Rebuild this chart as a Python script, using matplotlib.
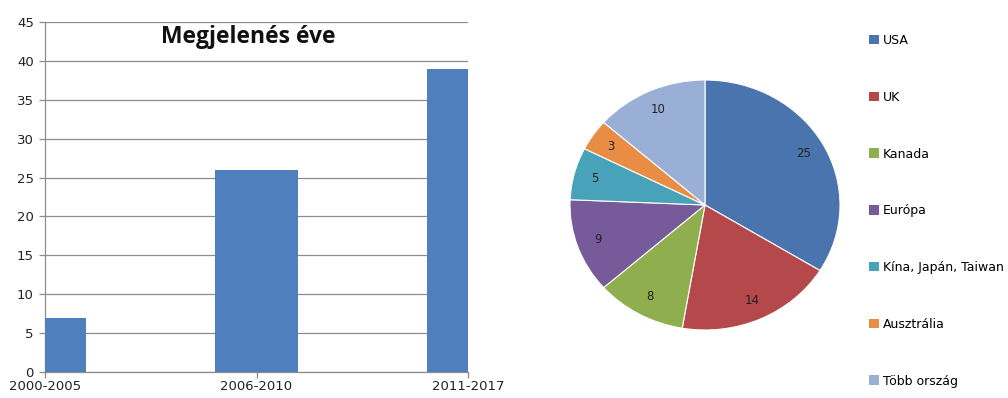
import matplotlib
matplotlib.use("Agg")
import matplotlib.pyplot as plt
from matplotlib.patches import Patch

# Data
bar_categories = ["2000-2005", "2006-2010", "2011-2017"]
bar_values = [7, 26, 39]
bar_title = "Megjelenés éve"
y_ticks = [0, 5, 10, 15, 20, 25, 30, 35, 40, 45]

pie_labels = ["USA", "UK", "Kanada", "Európa", "Kína, Japán, Taiwan", "Ausztrália", "Több ország"]
pie_values = [25, 14, 8, 9, 5, 3, 10]
pie_colors = ["#4A74AD", "#B5484A", "#8FAF4E", "#775A99", "#47A2BA", "#E98D45", "#9AAFD6"]

W, H = 1008, 398
fig = plt.figure(figsize=(W / 100, H / 100), dpi=100)
fig.patch.set_facecolor("white")

FONT = "DejaVu Sans"

# Bar chart
ax = fig.add_axes([45 / W, (H - 372) / H, 423 / W, 350 / H])
x = list(range(len(bar_categories)))
ax.bar(x, bar_values, width=0.392, color="#4F7FBC", zorder=3)
ax.set_xlim(0, len(bar_categories) - 1)
ax.set_ylim(0, 45)
ax.set_yticks(y_ticks)
ax.set_xticks(x)
ax.set_xticklabels(bar_categories, fontsize=9.5, family=FONT, color="#222222")
for lbl in ax.get_yticklabels():
    lbl.set_fontsize(9.5)
    lbl.set_family(FONT)
    lbl.set_color("#222222")
ax.grid(axis="y", color="#8c8c8c", linewidth=0.9, zorder=0)
for s in ["top", "right"]:
    ax.spines[s].set_visible(False)
for s in ["left", "bottom"]:
    ax.spines[s].set_color("#8c8c8c")
    ax.spines[s].set_linewidth(0.9)
ax.tick_params(axis="both", colors="#8c8c8c", length=4, width=0.9, labelcolor="#222222")
ax.tick_params(axis="y", pad=4)
ax.tick_params(axis="x", pad=1.5)
ax.text(0.48, 0.958, bar_title, transform=ax.transAxes, ha="center", va="center",
        fontsize=16.5, fontweight="bold", family="Open Sans", color="#111111")

# Pie chart
axp = fig.add_axes([570 / W, (H - 330) / H, 270 / W, 250 / H])
wedges, texts = axp.pie(pie_values, labels=[str(v) for v in pie_values], colors=pie_colors,
                        startangle=90, counterclock=False, labeldistance=0.84,
                        wedgeprops=dict(linewidth=0.8, edgecolor="white"),
                        textprops=dict(fontsize=8.5, family=FONT, color="#222222"))
axp.set_aspect("auto")
axp.set_xlim(-1, 1)
axp.set_ylim(-1, 1)
for t in texts:
    t.set_ha("center")
    t.set_va("center")

handles = [Patch(facecolor=c, edgecolor="none") for c in pie_colors]
fig.legend(handles, pie_labels, loc="upper left", bbox_to_anchor=(869 / W, (H - 34) / H),
           frameon=False, prop=dict(family=FONT, size=9),
           labelspacing=3.5, handlelength=0.8, handleheight=0.8, handletextpad=0.3,
           borderpad=0, borderaxespad=0)

fig.savefig("out.png", dpi=100)
